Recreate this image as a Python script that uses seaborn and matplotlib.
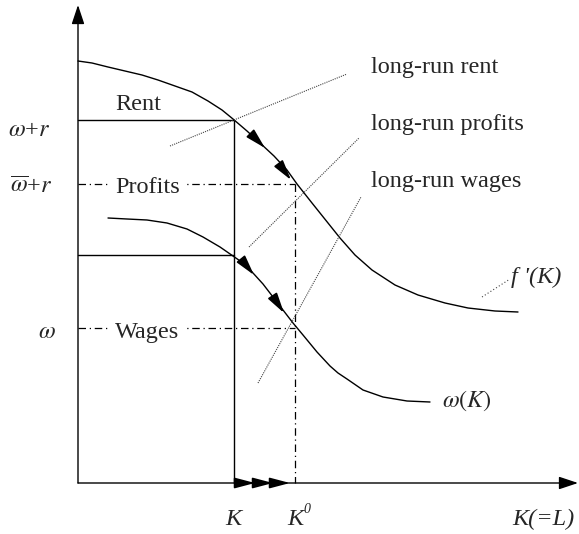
import matplotlib
matplotlib.use('Agg')
import matplotlib.pyplot as plt
import seaborn as sns
import pandas as pd

# everything is in picture units: x to the right, y downwards
fprime_x = [78, 92, 108, 125, 142, 158, 175, 192, 208, 222, 233, 247, 260, 274, 287, 297,
            312, 328, 340, 355, 372, 395, 418, 445, 468, 495, 518]
fprime_y = [61, 63, 67, 71, 75, 80, 86, 92, 101, 110, 119, 131, 143, 156, 170, 184,
            203, 223, 238, 255, 270, 285, 295, 303, 308, 311, 312]

wage_x = [108, 127, 147, 167, 187, 203, 220, 233, 243, 253, 263, 273, 283, 293,
          303, 317, 330, 338, 347, 363, 383, 407, 430]
wage_y = [218, 219, 220, 223, 229, 237, 247, 256, 263, 273, 284, 297, 310, 323,
          335, 352, 366, 373, 379, 390, 397, 401, 402]

origin = (78, 483)
k_short = 234
k_long = 295
level_rent = 120      # omega + r
level_profit = 184    # omega-bar + r
level_low = 255       # omega(K) at K
level_wage = 328      # omega

curve_arrows = [((255, 138), (265, 148)), ((282, 168), (291, 180)),
                ((245, 264), (254, 275)), ((276, 301), (284, 313))]
axis_arrows = [(242, 255), (260, 273), (277, 290)]

leaders = {
    'long-run rent': ((170, 146), (347, 74)),
    'long-run profits': ((249, 247), (359, 138)),
    'long-run wages': ((258, 383), (361, 197)),
}
leader_fprime = ((482, 297), (510, 279))

sns.set_theme(style='white')
plt.rcParams['font.family'] = ['Liberation Serif', 'DejaVu Serif']
plt.rcParams['mathtext.fontset'] = 'stix'

fig = plt.figure(figsize=(5.79, 5.34), dpi=100)
ax = fig.add_axes([0, 0, 1, 1])
ax.set_xlim(0, 579)
ax.set_ylim(534, 0)
ax.axis('off')

fs = 17.5

# axes with arrows
head = dict(arrowstyle='-|>,head_length=0.9,head_width=0.3', color='black',
            lw=1.0, shrinkA=0, shrinkB=0, mutation_scale=13)
ax.annotate('', xy=(578, origin[1]), xytext=origin, arrowprops=head)
ax.annotate('', xy=(origin[0], 5), xytext=origin, arrowprops=head)

# curves
curves = pd.DataFrame({'x': fprime_x + wage_x,
                       'y': fprime_y + wage_y,
                       'c': ['f'] * len(fprime_x) + ['w'] * len(wage_x)})
sns.lineplot(data=curves, x='x', y='y', units='c', estimator=None, sort=False,
             color='black', lw=1.0, ax=ax, legend=False)

small_head = dict(head, arrowstyle='-|>,head_length=0.95,head_width=0.25', lw=1.2)
for tail, tip in curve_arrows:
    ax.annotate('', xy=tip, xytext=tail, arrowprops=small_head)

for a, b in axis_arrows:
    ax.annotate('', xy=(b, origin[1]), xytext=(a, origin[1]), arrowprops=small_head)

# solid rectangles
ax.plot([origin[0], k_short], [level_rent, level_rent], color='black', lw=1)
ax.plot([origin[0], k_short], [level_low, level_low], color='black', lw=1)
ax.plot([k_short, k_short], [level_rent, origin[1]], color='black', lw=1)

# dash-dot long-run lines
dd = dict(color='black', lw=0.9, dashes=(6, 3, 1, 3))
ax.plot([origin[0], k_long], [level_profit, level_profit], **dd)
ax.plot([origin[0], k_long], [level_wage, level_wage], **dd)
ax.plot([k_long, k_long], [level_profit, origin[1]], **dd)

# dotted leader lines
for name, (p, q) in leaders.items():
    ax.plot([p[0], q[0]], [p[1], q[1]], color='#444444', lw=0.8, ls=(0, (1, 1)))
ax.plot([leader_fprime[0][0], leader_fprime[1][0]],
        [leader_fprime[0][1], leader_fprime[1][1]], color='#444444', lw=0.8, ls=(0, (1, 2)))

# text
white = dict(facecolor='white', edgecolor='none', pad=4)
ax.text(115, 110, 'Rent', fontsize=fs, va='baseline')
ax.text(115, 193, 'Profits', fontsize=fs, va='baseline', bbox=white)
ax.text(115, 338, 'Wages', fontsize=fs, va='baseline', bbox=white)

ax.text(371, 73, 'long-run rent', fontsize=fs, va='baseline')
ax.text(371, 130, 'long-run profits', fontsize=fs, va='baseline')
ax.text(371, 187, 'long-run wages', fontsize=fs, va='baseline')

ax.text(8, 136, r'$\omega$+$r$', fontsize=fs, va='baseline')
ax.text(10, 193, r'$\overline{\omega}$+$r$', fontsize=fs, va='baseline')
ax.text(38, 338, r'$\omega$', fontsize=fs, va='baseline')

ax.text(511, 283, "f '(K)", fontsize=fs, va='baseline', style='italic')
ax.text(442, 407, r'$\omega(K)$', fontsize=fs, va='baseline')

ax.text(233, 525, 'K', fontsize=fs, va='baseline', ha='center', style='italic')
ax.text(287, 525, 'K', fontsize=fs, va='baseline', style='italic')
ax.text(303, 513, '0', fontsize=10, va='baseline', style='italic')
ax.text(512, 525, 'K(=L)', fontsize=fs, va='baseline', style='italic')

fig.savefig('out.png', dpi=100, facecolor='white')
